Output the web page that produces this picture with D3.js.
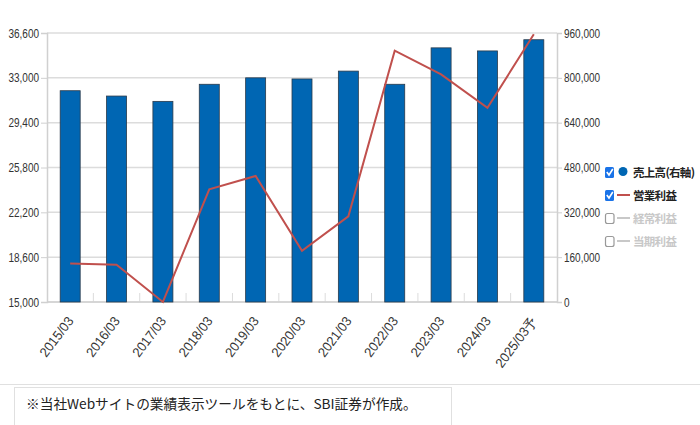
<!DOCTYPE html>
<html><head><meta charset="utf-8">
<script src="https://cdn.jsdelivr.net/npm/d3@7"></script>
<style>
body{margin:0;background:#fff;}
svg{display:block;}
</style></head>
<body>
<svg id="c" width="700" height="425"></svg>
<script>
const categories = ["2015/03","2016/03","2017/03","2018/03","2019/03","2020/03","2021/03","2022/03","2023/03","2024/03","2025/03予"];
const sales = [754000,735000,716000,777000,800000,796000,824000,777000,907000,896000,936000];
const operatingProfit = [18100,18000,15000,24050,25120,19120,21880,35180,33280,30590,36500];
const leftTicks = [15000,18600,22200,25800,29400,33000,36600];
const rightTicks = [0,160000,320000,480000,640000,800000,960000];
const legendItems = [
  {label:"売上高(右軸)", active:true, kind:"circle", color:"#0066b3"},
  {label:"営業利益", active:true, kind:"line", color:"#c0504d"},
  {label:"経常利益", active:false, kind:"line", color:"#c8c8c8"},
  {label:"当期利益", active:false, kind:"line", color:"#c8c8c8"}
];
const footnote = "※当社Webサイトの業績表示ツールをもとに、SBI証券が作成。";

const svg = d3.select("#c");
const L = 47, R = 557, T = 33, B = 302;
const x = d3.scaleBand().domain(categories).range([L,R]).paddingInner(0).paddingOuter(0);
const yL = d3.scaleLinear().domain([15000,36600]).range([B,T]);
const yR = d3.scaleLinear().domain([0,960000]).range([B,T]);
const font = "'Liberation Sans', Arial, sans-serif";

function squeeze(sel, k){
  sel.each(function(){
    const w = this.getComputedTextLength();
    d3.select(this).attr("textLength", w*k).attr("lengthAdjust","spacingAndGlyphs");
  });
}

// gridlines
svg.append("g").selectAll("line").data(leftTicks).join("line")
  .attr("x1",L).attr("x2",R).attr("y1",d=>yL(d)).attr("y2",d=>yL(d))
  .attr("stroke","#dcdcdc").attr("stroke-width",1.5);

// category separator ticks at bottom
svg.append("g").selectAll("line").data(categories.slice(1)).join("line")
  .attr("x1",d=>x(d)).attr("x2",d=>x(d)).attr("y1",B-9).attr("y2",B)
  .attr("stroke","#dcdcdc").attr("stroke-width",1);

// axes
const axL = svg.append("g").attr("transform",`translate(${L},0)`)
  .call(d3.axisLeft(yL).tickValues(leftTicks).tickSize(6).tickPadding(2).tickFormat(d3.format(",")));
const axR = svg.append("g").attr("transform",`translate(${R},0)`)
  .call(d3.axisRight(yR).tickValues(rightTicks).tickSize(5).tickPadding(2).tickFormat(d3.format(",")));
[axL,axR].forEach(a=>{
  a.select(".domain").attr("stroke","#d0d0d0").attr("stroke-width",1.5);
  a.selectAll(".tick line").attr("stroke","#d0d0d0");
  a.selectAll("text").attr("fill","#333").style("font-family",font).style("font-size","12.5px");
  squeeze(a.selectAll("text"), 0.8);
});

// bottom axis line
svg.append("line").attr("x1",L).attr("x2",R).attr("y1",B).attr("y2",B)
  .attr("stroke","#d0d0d0").attr("stroke-width",1.5);

// bars (right axis)
const bw = 20;
svg.append("g").selectAll("rect").data(sales).join("rect")
  .attr("x",(d,i)=>x(categories[i])+x.bandwidth()/2-bw/2)
  .attr("width",bw)
  .attr("y",d=>yR(d))
  .attr("height",d=>yR(0)-yR(d))
  .attr("fill","#0066b3").attr("stroke","#2a3a4a").attr("stroke-width",0.8);

// line (left axis)
const line = d3.line().x((d,i)=>x(categories[i])+x.bandwidth()/2).y(d=>yL(d));
svg.append("path").datum(operatingProfit).attr("d",line)
  .attr("fill","none").attr("stroke","#c0504d").attr("stroke-width",2);

// x labels
const xl = svg.append("g").selectAll("text").data(categories).join("text")
  .attr("transform",d=>`translate(${x(d)+x.bandwidth()/2+4},${B+19}) rotate(-53)`)
  .attr("text-anchor","end")
  .attr("fill","#333").style("font-family",font).style("font-size","13.5px")
  .text(d=>d);
squeeze(xl, 0.95);

// legend
const lg = svg.append("g");
legendItems.forEach((it,i)=>{
  const cy = 172 + i*23;
  const g = lg.append("g");
  if(it.active){
    g.append("rect").attr("x",605).attr("y",cy-5).attr("width",9).attr("height",11).attr("rx",1.5)
      .attr("fill","#1a73e8");
    g.append("path").attr("d",`M606.8,${cy} L609,${cy+3} L612.8,${cy-3}`)
      .attr("fill","none").attr("stroke","#fff").attr("stroke-width",1.6);
  } else {
    g.append("rect").attr("x",605.5).attr("y",cy-4.5).attr("width",8.5).attr("height",10).attr("rx",2)
      .attr("fill","#fff").attr("stroke","#999").attr("stroke-width",1.2);
  }
  if(it.kind==="circle"){
    g.append("circle").attr("cx",623).attr("cy",cy-0.5).attr("r",4.5).attr("fill",it.color);
  } else {
    g.append("line").attr("x1",617).attr("x2",630).attr("y1",cy).attr("y2",cy)
      .attr("stroke",it.color).attr("stroke-width",2);
  }
  g.append("text").attr("x",633).attr("y",cy+4.5)
    .attr("fill",it.active?"#222":"#c8c8c8")
    .style("font-family","'Noto Sans CJK JP', sans-serif").style("font-size","11.5px").style("font-weight","bold")
    .style("letter-spacing","-0.7px")
    .text(it.label);
});

// separator line and footnote box
svg.append("line").attr("x1",0).attr("x2",700).attr("y1",384.5).attr("y2",384.5)
  .attr("stroke","#e0e0e0").attr("stroke-width",1);
svg.append("rect").attr("x",14.5).attr("y",387.5).attr("width",437).attr("height",45)
  .attr("fill","#fff").attr("stroke","#e0e0e0").attr("stroke-width",1);
svg.append("text").attr("x",26).attr("y",408.5)
  .attr("fill","#222").style("font-family","'Noto Sans CJK JP', sans-serif").style("font-size","13.7px")
  .text(footnote);
</script>
</body></html>
